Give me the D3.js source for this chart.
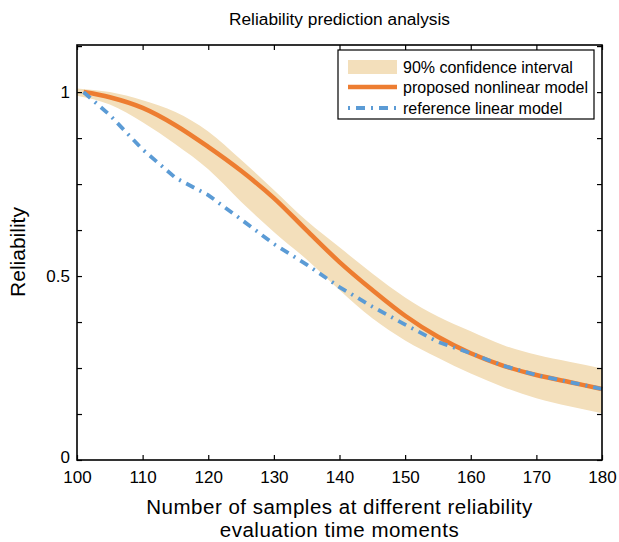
<!DOCTYPE html>
<html>
<head>
<meta charset="utf-8">
<script src="https://cdn.jsdelivr.net/npm/d3@7"></script>
<style>
  body { margin: 0; background: #fff; }
  svg text { font-family: "Liberation Sans", Arial, sans-serif; fill: #000; }
</style>
</head>
<body>
<div id="chart"></div>
<script>
// values
let bandX = [100, 105, 110, 115, 120, 125, 130, 135, 140, 145, 150, 155, 160, 165, 170, 175, 180];
let bandUpper = [1.01, 1.0, 0.978, 0.946, 0.893, 0.816, 0.734, 0.65, 0.578, 0.507, 0.442, 0.39, 0.35, 0.312, 0.286, 0.267, 0.249];
let bandLower = [0.99, 0.966, 0.918, 0.858, 0.79, 0.702, 0.62, 0.545, 0.462, 0.385, 0.325, 0.278, 0.235, 0.198, 0.168, 0.146, 0.127];

let lineX = [101, 105, 110, 115, 120, 125, 130, 135, 140, 145, 150, 155, 160, 165, 170, 175, 180];
let proposed = [1.0, 0.986, 0.957, 0.91, 0.851, 0.786, 0.712, 0.624, 0.538, 0.462, 0.392, 0.335, 0.29, 0.256, 0.231, 0.212, 0.193];
let reference = [1.0, 0.9375, 0.844, 0.767, 0.72, 0.654, 0.587, 0.531, 0.47, 0.417, 0.368, 0.321, 0.29, 0.256, 0.231, 0.212, 0.193];

let xTicks = [100, 110, 120, 130, 140, 150, 160, 170, 180];
let yTicks = [0, 0.125, 0.25, 0.375, 0.5, 0.625, 0.75, 0.875, 1, 1.125];
let yLabels = [0, 0.5, 1];

let legendNames = ["90% confidence interval", "proposed nonlinear model", "reference linear model"];

let width = 619;
let height = 542;
let margin = {top: 45, right: 17, bottom: 82, left: 77};
let innerW = width - margin.left - margin.right;
let innerH = height - margin.top - margin.bottom;

let bandColor = "#f3dfbb";
let orange = "#ed7d31";
let blue = "#5b9bd5";

let svg = d3.select("#chart").append("svg")
	.attr("width", width)
	.attr("height", height);

let g = svg.append("g")
	.attr("transform", "translate(" + margin.left + "," + margin.top + ")");

let x = d3.scaleLinear().domain([100, 180]).range([0, innerW]);
let y = d3.scaleLinear().domain([0, 1.128]).range([innerH, 0]);

// confidence band
let area = d3.area()
	.x(function(d, i){ return x(bandX[i]); })
	.y0(function(d, i){ return y(bandLower[i]); })
	.y1(function(d, i){ return y(bandUpper[i]); })
	.curve(d3.curveMonotoneX);

g.append("path")
	.datum(bandX)
	.attr("d", area)
	.attr("fill", bandColor);

g.append("path")
	.datum(d3.zip(lineX, proposed))
	.attr("d", d3.line()
		.x(function(d){ return x(d[0]); })
		.y(function(d){ return y(d[1]); })
		.curve(d3.curveCatmullRom))
	.attr("fill", "none")
	.attr("stroke", orange)
	.attr("stroke-width", 4.5);

g.append("path")
	.datum(d3.zip(lineX, reference))
	.attr("d", d3.line().x(function(d){ return x(d[0]); }).y(function(d){ return y(d[1]); }))
	.attr("fill", "none")
	.attr("stroke", blue)
	.attr("stroke-width", 3.8)
	.attr("stroke-dasharray", "9,6,2,6");

// axes, ticks pointing inward on all four sides
let fmtX = function(d){ return d; };
let fmtY = function(d){ return yLabels.indexOf(d) > -1 ? d : ""; };

g.append("g")
	.attr("transform", "translate(0," + innerH + ")")
	.call(d3.axisBottom(x).tickValues(xTicks).tickSize(-5).tickPadding(11).tickFormat(fmtX))
	.call(styleAxis);

g.append("g")
	.call(d3.axisTop(x).tickValues(xTicks).tickSize(-5).tickFormat(""))
	.call(styleAxis);

let yAxis = g.append("g")
	.call(d3.axisLeft(y).tickValues(yTicks).tickSize(-5).tickPadding(7).tickFormat(fmtY))
	.call(styleAxis);

// the "0" sits a little higher so it clears the "100" below it
yAxis.selectAll(".tick text")
	.filter(function(d){ return d === 0; })
	.attr("dy", "0.12em");

g.append("g")
	.attr("transform", "translate(" + innerW + ",0)")
	.call(d3.axisRight(y).tickValues(yTicks).tickSize(-5).tickFormat(""))
	.call(styleAxis);

function styleAxis(sel){
	sel.select(".domain").remove();
	sel.selectAll(".tick line").attr("stroke", "#000").attr("stroke-width", 1.2);
	sel.selectAll(".tick text").style("font-size", "17px").attr("fill", "#000");
}

g.append("rect")
	.attr("width", innerW)
	.attr("height", innerH)
	.attr("fill", "none")
	.attr("stroke", "#000")
	.attr("stroke-width", 1.6);

// titles
svg.append("text")
	.attr("x", margin.left + innerW / 2)
	.attr("y", 25)
	.attr("text-anchor", "middle")
	.style("font-size", "17.3px")
	.text("Reliability prediction analysis");

svg.append("text")
	.attr("x", margin.left + innerW / 2)
	.attr("y", 514)
	.attr("text-anchor", "middle")
	.style("font-size", "20.5px")
	.style("letter-spacing", "0.5px")
	.text("Number of samples at different reliability");

svg.append("text")
	.attr("x", margin.left + innerW / 2)
	.attr("y", 537)
	.attr("text-anchor", "middle")
	.style("font-size", "20.5px")
	.style("letter-spacing", "0.5px")
	.text("evaluation time moments");

svg.append("text")
	.attr("transform", "translate(24.5,252) rotate(-90)")
	.attr("text-anchor", "middle")
	.style("font-size", "21px")
	.text("Reliability");

// legend
let legend = svg.append("g").attr("transform", "translate(338,50)");

legend.append("rect")
	.attr("width", 256)
	.attr("height", 69)
	.attr("fill", "#fff")
	.attr("stroke", "#000")
	.attr("stroke-width", 1.2);

let rowY = [17, 37, 58];

legend.append("rect")
	.attr("x", 10).attr("y", rowY[0] - 7)
	.attr("width", 49).attr("height", 14)
	.attr("fill", bandColor);

legend.append("line")
	.attr("x1", 10).attr("x2", 59)
	.attr("y1", rowY[1]).attr("y2", rowY[1])
	.attr("stroke", orange).attr("stroke-width", 4.5);

legend.append("line")
	.attr("x1", 10).attr("x2", 59)
	.attr("y1", rowY[2]).attr("y2", rowY[2])
	.attr("stroke", blue).attr("stroke-width", 3.8)
	.attr("stroke-dasharray", "2,6,9,6");

legend.selectAll("text.lbl")
	.data(legendNames)
	.enter().append("text")
	.attr("class", "lbl")
	.attr("x", 65)
	.attr("y", function(d, i){ return rowY[i]; })
	.attr("dy", "0.35em")
	.style("font-size", "16px")
	.text(function(d){ return d; });
</script>
</body>
</html>
